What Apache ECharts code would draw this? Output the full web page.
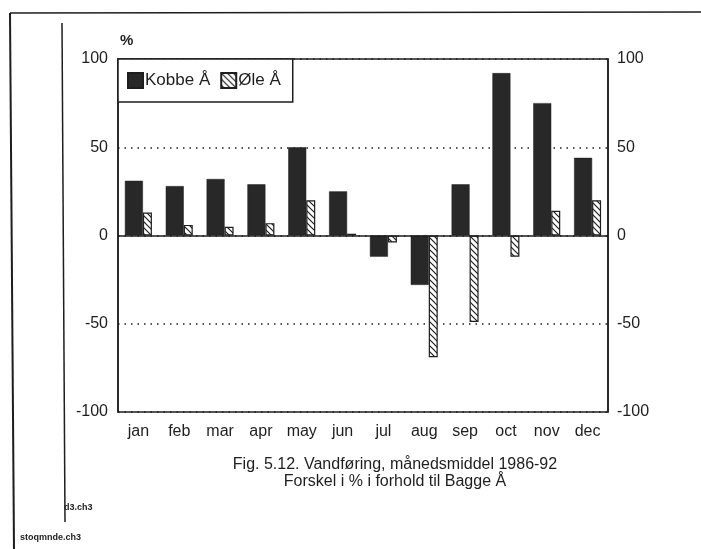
<!DOCTYPE html>
<html>
<head>
<meta charset="utf-8">
<script src="https://cdn.jsdelivr.net/npm/echarts@6/dist/echarts.min.js"></script>
<style>
html,body{margin:0;padding:0;background:#fff;}
#c{width:701px;height:549px;}
</style>
</head>
<body>
<div id="c"></div>
<script>
var months = ['jan','feb','mar','apr','may','jun','jul','aug','sep','oct','nov','dec'];
var kobbe = [31, 28, 32, 29, 50, 25, -12, -28, 29, 92, 75, 44];
var oele  = [13, 6, 5, 7, 20, 1, -4, -69, -49, -12, 14, 20];
var yTicks = [-100, -50, 0, 50, 100];
var seriesNames = ['Kobbe Å', 'Øle Å'];
var titleLines = ['Fig. 5.12. Vandføring, månedsmiddel 1986-92', 'Forskel i % i forhold til Bagge Å'];

var ink = '#1e1e1e';
var font = 'Liberation Sans, Arial, sans-serif';

// hatch pattern
var pc = document.createElement('canvas');
pc.width = 6; pc.height = 6;
var g = pc.getContext('2d');
g.fillStyle = '#fff'; g.fillRect(0,0,6,6);
g.strokeStyle = ink; g.lineWidth = 1.2;
g.beginPath();
g.moveTo(-1,-1); g.lineTo(7,7);
g.moveTo(-1,5); g.lineTo(1,7);
g.moveTo(5,-1); g.lineTo(7,1);
g.stroke();
var hatch = {image: pc, repeat: 'repeat'};

var chart = echarts.init(document.getElementById('c'));
chart.setOption({
  animation: false,
  backgroundColor: '#fff',
  grid: {left: 118, right: 93, top: 59, bottom: 137, show: true, borderColor: ink, borderWidth: 1.5, backgroundColor: 'transparent'},
  legend: {
    left: 118, top: 59,
    data: seriesNames,
    orient: 'horizontal',
    icon: 'rect',
    itemWidth: 15, itemHeight: 15, itemGap: 10,
    padding: [13, 12, 13, 9],
    borderColor: ink, borderWidth: 1.5, backgroundColor: '#fff',
    textStyle: {fontFamily: font, fontSize: 17, color: ink, padding: [0,0,0,-3]},
    selectedMode: false
  },
  xAxis: {
    type: 'category', data: months,
    axisLine: {show: false, onZero: false},
    axisTick: {show: false},
    axisLabel: {fontFamily: font, fontSize: 16, color: ink, margin: 12},
    splitLine: {show: false}
  },
  yAxis: [{
    type: 'value', min: -100, max: 100, interval: 50,
    axisLine: {show: true, lineStyle: {color: ink, width: 1.5}},
    axisTick: {show: false},
    axisLabel: {fontFamily: font, fontSize: 16, color: ink, margin: 10, customValues: yTicks},
    splitLine: {show: true, lineStyle: {color: ink, type: [1.5, 5], width: 1.5}}
  }, {
    type: 'value', min: -100, max: 100, interval: 50, position: 'right',
    axisLine: {show: true, lineStyle: {color: ink, width: 1.5}},
    axisTick: {show: false},
    axisLabel: {fontFamily: font, fontSize: 16, color: ink, margin: 9},
    splitLine: {show: false}
  }],
  series: [{
    name: seriesNames[0], type: 'bar', data: kobbe, barWidth: 18, barGap: '0%',
    itemStyle: {color: '#282828', borderColor: ink, borderWidth: 0.5},
    markLine: {silent: true, symbol: 'none', label: {show: false},
      lineStyle: {color: ink, type: 'solid', width: 1.5}, data: [{yAxis: 0}]}
  }, {
    name: seriesNames[1], type: 'bar', data: oele, barWidth: 9,
    itemStyle: {color: hatch, borderColor: ink, borderWidth: 1.2}
  }],
  graphic: [
    {type: 'line', shape: {x1: 10, y1: 13, x2: 701, y2: 12}, style: {stroke: ink, lineWidth: 1.5}},
    {type: 'line', shape: {x1: 10, y1: 13, x2: 14, y2: 549}, style: {stroke: ink, lineWidth: 2}},
    {type: 'line', shape: {x1: 62, y1: 23, x2: 65, y2: 522}, style: {stroke: ink, lineWidth: 1.5}},
    {type: 'text', left: 120, top: 33, style: {text: '%', font: 'bold 15px ' + font, fill: ink}},
    {type: 'text', x: 395, y: 457, style: {text: titleLines[0], font: '16px ' + font, fill: ink, align: 'center'}},
    {type: 'text', x: 395, y: 474, style: {text: titleLines[1], font: '16px ' + font, fill: ink, align: 'center'}},
    {type: 'text', x: 64, y: 503, style: {text: 'd3.ch3', font: 'bold 9px ' + font, fill: ink}},
    {type: 'text', x: 20, y: 533, style: {text: 'stoqmnde.ch3', font: 'bold 9px ' + font, fill: ink}}
  ]
});
</script>
</body>
</html>
